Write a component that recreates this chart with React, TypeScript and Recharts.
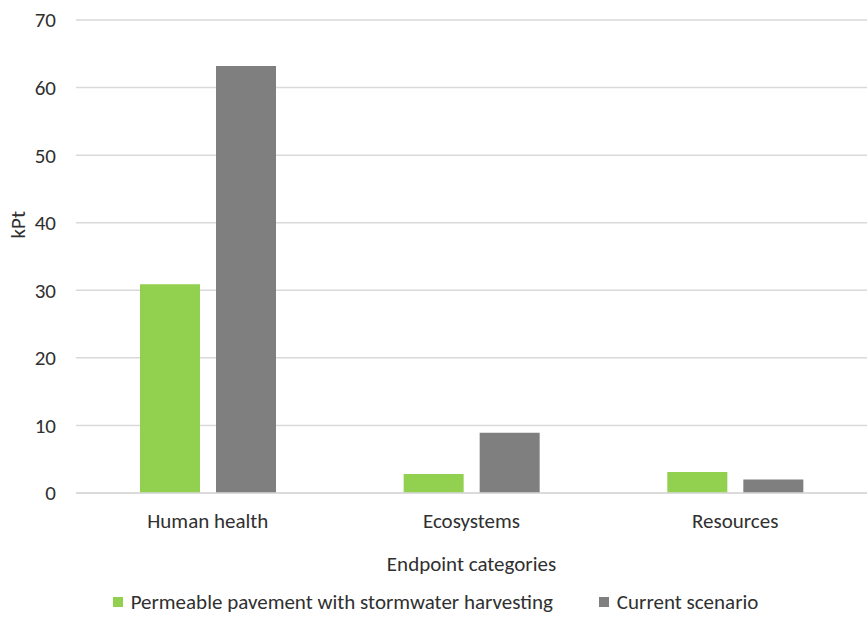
import React from 'react';
import { BarChart, Bar, XAxis, YAxis, CartesianGrid, Legend } from 'recharts';

const categories = ['Human health', 'Ecosystems', 'Resources'];
const permeable = [30.9, 2.8, 3.1];
const current = [63.2, 8.9, 2.0];
const yTicks = [0, 10, 20, 30, 40, 50, 60, 70];

const seriesNames = ['Permeable pavement with stormwater harvesting', 'Current scenario'];
const GREEN = '#92D050';
const GREY = '#7F7F7F';
const FONT = 'Carlito, Lato, sans-serif';
const TEXT = '#303030';

const data = categories.map((name, i) => ({
  name,
  permeable: permeable[i],
  current: current[i],
}));

const LegendRow = () => (
  <div
    style={{
      display: 'flex',
      justifyContent: 'center',
      gap: 46,
      fontFamily: FONT,
      fontSize: 21,
      color: TEXT,
    }}
  >
    {[GREEN, GREY].map((c, i) => (
      <span key={i} style={{ display: 'flex', alignItems: 'center' }}>
        <span style={{ width: 10, height: 10, background: c, marginRight: 8 }} />
        {seriesNames[i]}
      </span>
    ))}
  </div>
);

export default function App() {
  return (
    <div style={{ position: 'absolute', left: 0, top: 0, background: '#fff' }}>
      <BarChart
        width={867}
        height={619}
        data={data}
        margin={{ top: 20, right: 0, bottom: 20, left: 1 }}
        barGap={16}
        barCategoryGap={64}
      >
        <CartesianGrid vertical={false} stroke="#D9D9D9" strokeWidth={1.5} />
        <XAxis
          dataKey="name"
          axisLine={{ stroke: '#D9D9D9', strokeWidth: 1.5 }}
          tickLine={false}
          tickMargin={14}
          height={80}
          tick={{ fill: TEXT, fontSize: 21, fontFamily: FONT }}
          label={{
            value: 'Endpoint categories',
            position: 'insideBottom',
            offset: 2,
            fill: TEXT,
            fontSize: 21,
            fontFamily: FONT,
          }}
        />
        <YAxis
          width={75}
          domain={[0, 70]}
          ticks={yTicks}
          axisLine={false}
          tickLine={false}
          tickMargin={14}
          tick={{ fill: TEXT, fontSize: 21, fontFamily: FONT }}
          label={{
            value: 'kPt',
            angle: -90,
            position: 'insideLeft',
            offset: 17,
            dy: -18,
            fill: TEXT,
            fontSize: 21,
            fontFamily: FONT,
          }}
        />
        <Legend
          verticalAlign="bottom"
          content={<LegendRow />}
          wrapperStyle={{ left: 0, width: 867, bottom: 4, paddingLeft: 2 }}
        />
        <Bar dataKey="permeable" name={seriesNames[0]} fill={GREEN} isAnimationActive={false} />
        <Bar dataKey="current" name={seriesNames[1]} fill={GREY} isAnimationActive={false} />
      </BarChart>
    </div>
  );
}
